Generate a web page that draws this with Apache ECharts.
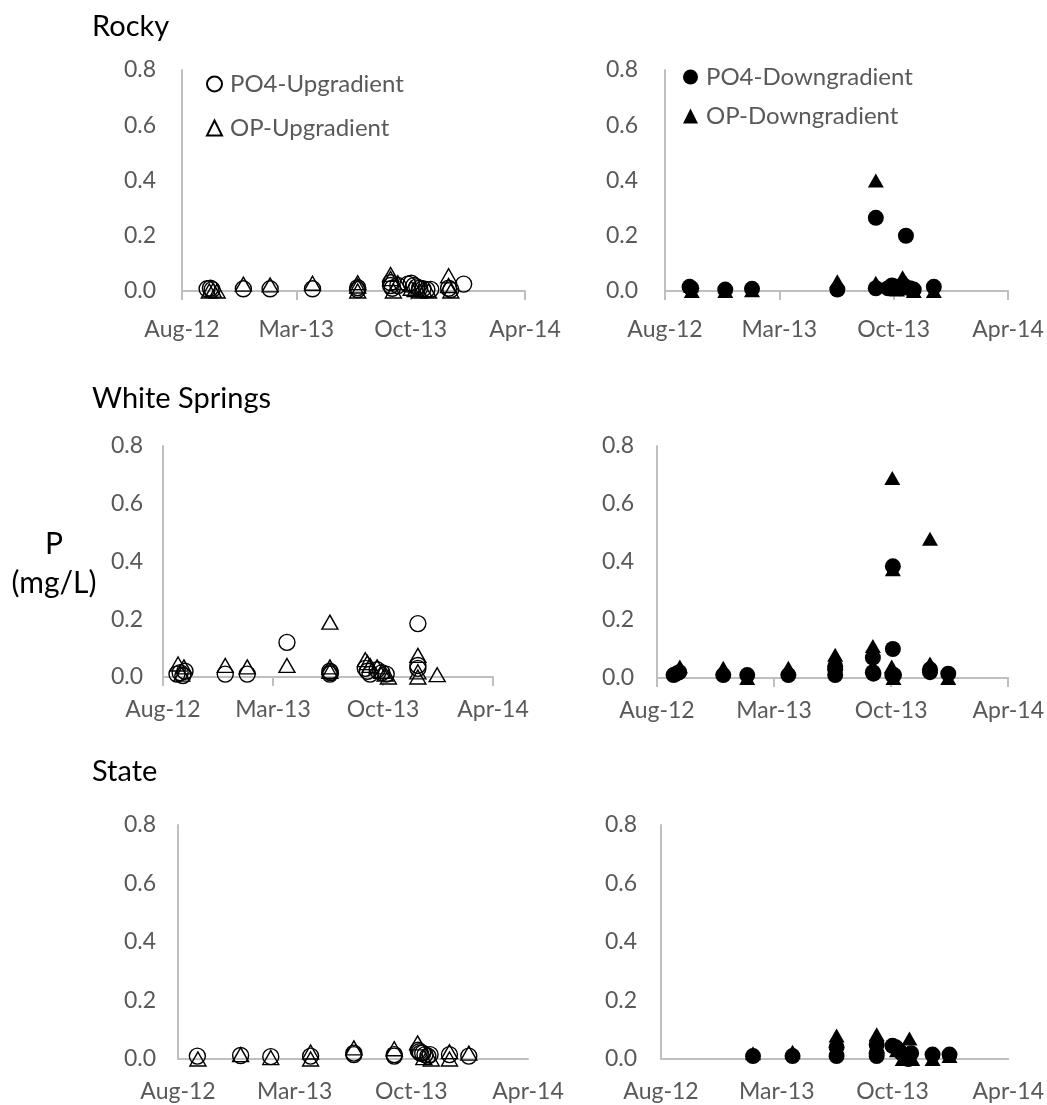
<!DOCTYPE html>
<html>
<head>
<meta charset="utf-8">
<title>P (mg/L)</title>
<script src="https://cdn.jsdelivr.net/npm/echarts@6/dist/echarts.min.js"></script>
<style>
html, body { margin: 0; padding: 0; background: #fff; }
#chart { width: 1047px; height: 1105px; }
</style>
</head>
<body>
<div id="chart"></div>
<script>
// tick labels of the shared date axis (ticks every xStep days from xOrigin)
var xTickLabels = ['Aug-12', 'Mar-13', 'Oct-13', 'Apr-14'];
var xOrigin = '2012-08-20';
var xStep = 205;

var siteNames = ['Rocky', 'White Springs', 'State'];
var seriesNames = ['PO4-Upgradient', 'OP-Upgradient', 'PO4-Downgradient', 'OP-Downgradient'];

// Rocky
var rockyPO4Up = [
	['2012-10-04', 0.008], ['2012-10-10', 0.01], ['2012-10-13', 0.005], ['2012-12-08', 0.008],
	['2013-01-25', 0.008], ['2013-04-11', 0.008], ['2013-07-01', 0.005], ['2013-07-01', 0.012],
	['2013-08-29', 0.03], ['2013-08-29', 0.02], ['2013-09-01', 0.01], ['2013-09-11', 0.02],
	['2013-09-29', 0.025], ['2013-10-05', 0.028], ['2013-10-10', 0.02], ['2013-10-15', 0.015],
	['2013-10-20', 0.01], ['2013-10-26', 0.008], ['2013-11-02', 0.005], ['2013-11-09', 0.006],
	['2013-12-11', 0.01], ['2013-12-15', 0.005], ['2014-01-07', 0.025]
];
var rockyOPUp = [
	['2012-10-08', 0.0], ['2012-10-15', 0.003], ['2012-10-22', 0.0], ['2012-12-08', 0.025],
	['2013-01-25', 0.022], ['2013-04-11', 0.028], ['2013-07-01', 0.03], ['2013-07-01', 0.018],
	['2013-07-01', 0.0], ['2013-08-29', 0.06], ['2013-08-29', 0.045], ['2013-09-03', 0.0],
	['2013-09-11', 0.03], ['2013-10-05', 0.01], ['2013-10-12', 0.005], ['2013-10-20', 0.0],
	['2013-10-28', 0.003], ['2013-11-05', 0.0], ['2013-12-11', 0.055], ['2013-12-11', 0.02],
	['2013-12-15', 0.0]
];
var rockyPO4Down = [
	['2012-10-03', 0.015], ['2012-10-06', 0.01], ['2012-12-06', 0.005], ['2013-01-23', 0.008],
	['2013-06-25', 0.005], ['2013-09-02', 0.265], ['2013-09-02', 0.01], ['2013-09-24', 0.01],
	['2013-10-01', 0.02], ['2013-10-08', 0.015], ['2013-10-15', 0.01], ['2013-10-22', 0.02],
	['2013-10-26', 0.2], ['2013-11-02', 0.01], ['2013-11-09', 0.005], ['2013-12-15', 0.015]
];
var rockyOPDown = [
	['2012-10-05', 0.02], ['2012-10-07', 0.0], ['2012-12-06', 0.0], ['2013-01-23', 0.003],
	['2013-06-25', 0.035], ['2013-09-02', 0.4], ['2013-09-02', 0.03], ['2013-10-10', 0.005],
	['2013-10-20', 0.05], ['2013-10-26', 0.03], ['2013-11-02', 0.01], ['2013-11-09', 0.0],
	['2013-12-15', 0.0]
];

// White Springs
var whitePO4Up = [
	['2012-09-15', 0.01], ['2012-09-21', 0.015], ['2012-09-26', 0.005], ['2012-09-30', 0.02],
	['2012-12-14', 0.01], ['2013-01-24', 0.01], ['2013-04-08', 0.12], ['2013-06-27', 0.02],
	['2013-06-27', 0.01], ['2013-06-28', 0.015], ['2013-09-01', 0.03], ['2013-09-05', 0.02],
	['2013-09-10', 0.01], ['2013-09-23', 0.025], ['2013-10-02', 0.015], ['2013-10-10', 0.01],
	['2013-12-08', 0.185], ['2013-12-08', 0.04], ['2013-12-08', 0.03]
];
var whiteOPUp = [
	['2012-09-17', 0.045], ['2012-09-28', 0.035], ['2012-09-24', 0.01], ['2012-12-14', 0.04],
	['2013-01-24', 0.035], ['2013-04-08', 0.04], ['2013-06-27', 0.19], ['2013-06-27', 0.035],
	['2013-06-27', 0.02], ['2013-09-01', 0.06], ['2013-09-05', 0.05], ['2013-09-10', 0.04],
	['2013-09-23', 0.035], ['2013-10-02', 0.02], ['2013-10-08', 0.01], ['2013-10-14', 0.0],
	['2013-12-08', 0.075], ['2013-12-08', 0.018], ['2013-12-08', 0.0], ['2014-01-13', 0.008]
];
var whitePO4Down = [
	['2012-09-18', 0.01], ['2012-09-23', 0.015], ['2012-09-28', 0.02], ['2012-12-14', 0.01],
	['2013-01-25', 0.01], ['2013-04-07', 0.01], ['2013-06-28', 0.04], ['2013-06-28', 0.03],
	['2013-06-28', 0.01], ['2013-09-02', 0.07], ['2013-09-02', 0.02], ['2013-09-03', 0.015],
	['2013-10-07', 0.385], ['2013-10-07', 0.1], ['2013-10-06', 0.01], ['2013-10-09', 0.01],
	['2013-12-11', 0.03], ['2013-12-11', 0.02], ['2014-01-12', 0.015]
];
var whiteOPDown = [
	['2012-09-20', 0.02], ['2012-09-29', 0.04], ['2012-12-14', 0.035], ['2013-01-25', 0.0],
	['2013-04-07', 0.035], ['2013-06-28', 0.08], ['2013-06-28', 0.05], ['2013-09-02', 0.11],
	['2013-09-02', 0.04], ['2013-10-06', 0.69], ['2013-10-07', 0.375], ['2013-10-05', 0.04],
	['2013-10-08', 0.0], ['2013-12-11', 0.48], ['2013-12-11', 0.05], ['2014-01-12', 0.0]
];

// State
var statePO4Up = [
	['2012-09-23', 0.01], ['2012-12-08', 0.012], ['2013-01-30', 0.008], ['2013-04-10', 0.01],
	['2013-06-25', 0.02], ['2013-06-25', 0.015], ['2013-09-04', 0.015], ['2013-09-04', 0.01],
	['2013-10-16', 0.03], ['2013-10-18', 0.025], ['2013-10-20', 0.02], ['2013-10-24', 0.02],
	['2013-10-28', 0.015], ['2013-11-02', 0.01], ['2013-11-06', 0.015], ['2013-12-10', 0.015],
	['2014-01-13', 0.01]
];
var stateOPUp = [
	['2012-09-24', 0.0], ['2012-12-08', 0.015], ['2013-01-30', 0.005], ['2013-04-10', 0.024],
	['2013-04-10', 0.0], ['2013-06-25', 0.038], ['2013-09-04', 0.035], ['2013-10-15', 0.055],
	['2013-10-26', 0.005], ['2013-11-08', 0.0], ['2013-12-10', 0.025], ['2013-12-10', 0.0],
	['2014-01-13', 0.02]
];
var statePO4Down = [
	['2013-01-30', 0.01], ['2013-04-10', 0.01], ['2013-06-27', 0.04], ['2013-06-27', 0.01],
	['2013-09-06', 0.05], ['2013-09-06', 0.02], ['2013-09-06', 0.01], ['2013-10-04', 0.045],
	['2013-10-10', 0.04], ['2013-10-15', 0.03], ['2013-10-20', 0.02], ['2013-10-26', 0.01],
	['2013-11-01', 0.0], ['2013-11-06', 0.02], ['2013-12-14', 0.015], ['2014-01-13', 0.015]
];
var stateOPDown = [
	['2013-01-30', 0.02], ['2013-04-10', 0.025], ['2013-06-27', 0.08], ['2013-06-27', 0.04],
	['2013-09-06', 0.085], ['2013-09-06', 0.045], ['2013-10-12', 0.03], ['2013-11-03', 0.07],
	['2013-10-22', 0.0], ['2013-11-08', 0.0], ['2013-12-14', 0.0], ['2014-01-13', 0.01]
];

var FONT = 'Lato';
var AXIS_GREY = '#bfbfbf';
var LABEL_GREY = '#595959';

function toDays(list) {
	var t0 = Date.parse(xOrigin);
	return list.map(function (d) {
		return [(Date.parse(d[0]) - t0) / 86400000, d[1]];
	});
}

// panel layout: [grid, y label margin, x label margin, x ticks]
var panels = [
	[{ left: 182, top: 70, width: 343, height: 221 }, 26, 27, true],
	[{ left: 665, top: 70, width: 343, height: 221 }, 27, 27, true],
	[{ left: 163, top: 446, width: 330, height: 231 }, 20, 21, true],
	[{ left: 657, top: 446, width: 352, height: 232 }, 23, 21, true],
	[{ left: 178, top: 825, width: 350, height: 234 }, 22, 21, false],
	[{ left: 661, top: 825, width: 349, height: 234 }, 24, 21, false]
];

var panelData = [
	[rockyPO4Up, rockyOPUp], [rockyPO4Down, rockyOPDown],
	[whitePO4Up, whiteOPUp], [whitePO4Down, whiteOPDown],
	[statePO4Up, stateOPUp], [statePO4Down, stateOPDown]
];

var grids = [], xAxes = [], yAxes = [], series = [];

panels.forEach(function (p, i) {
	grids.push(p[0]);
	xAxes.push({
		gridIndex: i,
		type: 'value',
		min: 0,
		max: 3 * xStep,
		interval: xStep,
		splitLine: { show: false },
		axisLine: { show: true, onZero: false, lineStyle: { color: AXIS_GREY, width: 2 } },
		axisTick: { show: p[3], length: 9, lineStyle: { color: AXIS_GREY, width: 2 } },
		axisLabel: {
			margin: p[2],
			color: LABEL_GREY,
			fontSize: 23,
			fontFamily: FONT,
			showMinLabel: true,
			showMaxLabel: true,
			formatter: function (v) { return xTickLabels[Math.round(v / xStep)]; }
		}
	});
	yAxes.push({
		gridIndex: i,
		type: 'value',
		min: 0,
		max: 0.8,
		interval: 0.2,
		splitLine: { show: false },
		axisLine: { show: true, onZero: false, lineStyle: { color: AXIS_GREY, width: 2 } },
		axisTick: { show: false },
		axisLabel: {
			margin: p[1],
			color: LABEL_GREY,
			fontSize: 23,
			fontFamily: FONT,
			formatter: function (v) { return v.toFixed(1); }
		}
	});

	var down = i % 2 == 1;
	var style = down
		? { color: '#000', opacity: 1 }
		: { color: 'rgba(0,0,0,0)', borderColor: '#000', borderWidth: 1.4, opacity: 1 };

	series.push({
		name: seriesNames[down ? 2 : 0],
		type: 'scatter',
		xAxisIndex: i,
		yAxisIndex: i,
		symbol: 'circle',
		symbolSize: 16,
		itemStyle: style,
		data: toDays(panelData[i][0])
	});
	series.push({
		name: seriesNames[down ? 3 : 1],
		type: 'scatter',
		xAxisIndex: i,
		yAxisIndex: i,
		symbol: 'triangle',
		symbolSize: [16, 14],
		itemStyle: style,
		data: toDays(panelData[i][1])
	});
});

var legendText = { fontSize: 24, color: LABEL_GREY, fontFamily: FONT, lineHeight: 24, padding: [0, 0, 0, 3] };

var titleY = [27, 399, 772];

var chart = echarts.init(document.getElementById('chart'));
chart.setOption({
	animation: false,
	textStyle: { fontFamily: FONT },
	grid: grids,
	xAxis: xAxes,
	yAxis: yAxes,
	legend: [{
		left: 201, top: 67, orient: 'vertical', itemGap: 20,
		itemWidth: 15, itemHeight: 15, selectedMode: false,
		data: [seriesNames[0], seriesNames[1]],
		textStyle: legendText
	}, {
		left: 678, top: 60, orient: 'vertical', itemGap: 15,
		itemWidth: 15, itemHeight: 15, selectedMode: false,
		data: [seriesNames[2], seriesNames[3]],
		textStyle: legendText
	}],
	graphic: siteNames.map(function (name, i) {
		return {
			type: 'text', x: 92, y: titleY[i],
			style: { text: name, fill: '#000', font: '29px ' + FONT, verticalAlign: 'middle' }
		};
	}).concat([{
		type: 'text', x: 54, y: 544,
		style: { text: 'P', fill: '#000', font: '30px ' + FONT, align: 'center', verticalAlign: 'middle' }
	}, {
		type: 'text', x: 54, y: 583,
		style: { text: '(mg/L)', fill: '#000', font: '30px ' + FONT, align: 'center', verticalAlign: 'middle' }
	}]),
	series: series
});
</script>
</body>
</html>
